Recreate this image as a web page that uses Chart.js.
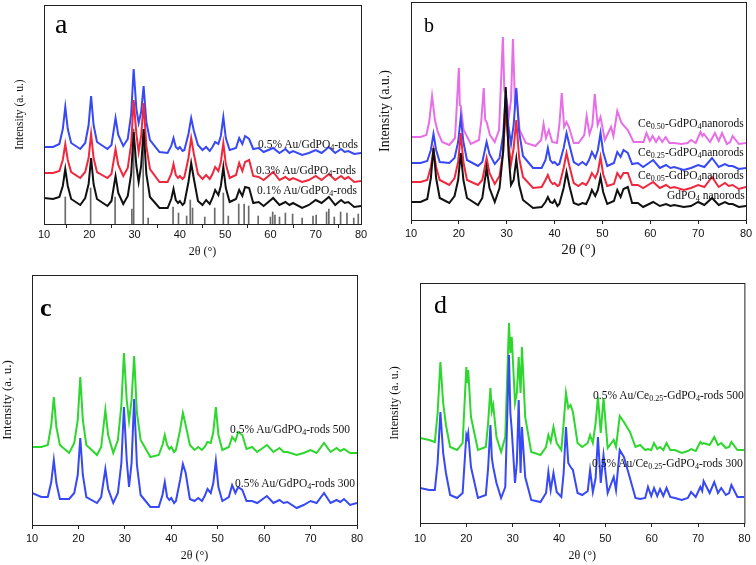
<!DOCTYPE html>
<html>
<head>
<meta charset="utf-8">
<script src="https://cdn.jsdelivr.net/npm/chart.js@4.4.1/dist/chart.umd.min.js"></script>
<style>
  body { margin: 0; background: #fff; }
  #wrap { position: relative; width: 756px; height: 565px; overflow: hidden; background: #fff; }
  canvas { position: absolute; }
  .lbl { position: absolute; font-family: "Liberation Serif", "Times New Roman", serif; font-size: 11.5px; line-height: 1; color: #111; white-space: nowrap; }
  .lbl sub { font-size: 70%; line-height: 0; vertical-align: -0.3em; }
  .panel { position: absolute; font-family: "Liberation Serif", "Times New Roman", serif; line-height: 1; color: #000; }
</style>
</head>
<body>
<div id="wrap">
  <canvas id="pa" width="378" height="272" style="left:0;top:0"></canvas>
  <canvas id="pb" width="384" height="268" style="left:372px;top:0"></canvas>
  <canvas id="pc" width="378" height="293" style="left:0;top:272px"></canvas>
  <canvas id="pd" width="376" height="293" style="left:380px;top:272px"></canvas>

  <div class="panel" style="left:55px;top:10px;font-size:28px">a</div>
  <div class="panel" style="left:424px;top:15px;font-size:20px">b</div>
  <div class="panel" style="left:40px;top:295px;font-size:26px;font-weight:bold">c</div>
  <div class="panel" style="left:434px;top:292px;font-size:26px">d</div>

  <div class="lbl" style="left:258px;top:139px">0.5% Au/GdPO<sub>4</sub>-rods</div>
  <div class="lbl" style="left:256px;top:165px">0.3% Au/GdPO<sub>4</sub>-rods</div>
  <div class="lbl" style="left:257px;top:185px">0.1% Au/GdPO<sub>4</sub>-rods</div>

  <div class="lbl" style="left:638px;top:118px">Ce<sub>0.50</sub>-GdPO<sub>4</sub>nanorods</div>
  <div class="lbl" style="left:638px;top:147px">Ce<sub>0.25</sub>-GdPO<sub>4</sub>nanorods</div>
  <div class="lbl" style="left:638px;top:170px">Ce<sub>0.05</sub>-GdPO<sub>4</sub>nanorods</div>
  <div class="lbl" style="left:667px;top:190px">GdPO<sub>4</sub> nanorods</div>

  <div class="lbl" style="left:230px;top:424px">0.5% Au/GdPO<sub>4</sub>-rods 500</div>
  <div class="lbl" style="left:235px;top:478px">0.5% Au/GdPO<sub>4</sub>-rods 300</div>

  <div class="lbl" style="left:593px;top:390px">0.5% Au/Ce<sub>0.25</sub>-GdPO<sub>4</sub>-rods 500</div>
  <div class="lbl" style="left:592px;top:458px">0.5% Au/Ce<sub>0.25</sub>-GdPO<sub>4</sub>-rods 300</div>
</div>
<script>
// 2θ grid for the monoclinic GdPO4 patterns (a, b lower three, c)
const gdpoAngles = [
  10, 12, 13.4, 14.15, 14.7, 15.25, 16.0, 18, 19.1, 19.85,
  20.4, 20.95, 21.7, 24.0, 24.9, 25.8, 26.4, 27.5, 28.5, 29.25,
  29.8, 30.4, 30.9, 31.45, 32.0, 32.6, 33.4, 35.5, 37.3, 38.1,
  38.6, 39.1, 39.6, 40.0, 40.6, 41.0, 41.9, 42.5, 43.1, 44.0,
  45.0, 45.8, 46.6, 47.2, 47.8, 48.5, 49.05, 49.6, 50.15, 51.0,
  52.4, 53.1, 53.8, 54.4, 55.3, 56.2, 57.4, 58.5, 60.6, 62.0,
  63.3, 64.2, 65.0, 67.0, 68.5, 70.0, 71.3, 72.9, 74.3, 75.6,
  76.4, 77.2, 78.5, 80
];
// 2θ grid for the mixed-phase patterns (Ce0.50 in b, both in d)
const mixAngles = [
  10, 12, 13.2, 13.8, 14.4, 15.0, 15.6, 16.5, 18, 19.2,
  20.0, 20.2, 20.4, 21.0, 22.5, 24.2, 24.7, 25.2, 25.5, 25.8,
  26.5, 27.5, 28.4, 29.2, 29.5, 29.8, 30.5, 30.9, 31.3, 31.7,
  32.0, 32.7, 34, 36, 37.2, 37.7, 38.2, 38.8, 39.5, 40.5,
  41.0, 41.5, 42.0, 42.5, 43.0, 44, 45, 46.2, 46.7, 47.3,
  47.9, 48.4, 49.0, 49.6, 50.5, 51.8, 52.3, 53.1, 54.0, 55.3,
  56.5, 57.5, 58.6, 59.2, 59.9, 60.5, 61.2, 61.8, 62.5, 63.2,
  64.0, 65, 66.5, 67.8, 68.5, 69.5, 70.5, 70.9, 71.2, 72.5,
  73.5, 74.3, 75, 76, 76.7, 77.2, 78.5, 80
];

// panel a
const au05 = [
  77, 77, 80, 95, 117, 95, 81, 75, 81, 99,
  128, 99, 82, 75, 79, 106, 89, 78, 85, 110,
  155, 115, 101, 112, 138, 102, 84, 72, 71, 78,
  86, 77, 75, 77, 73, 74, 90, 106, 93, 79,
  74, 77, 73, 77, 82, 80, 88, 107, 86, 74,
  76, 86, 80, 88, 85, 75, 76, 72, 76, 71,
  75, 71, 73, 69, 71, 74, 71, 77, 71, 75,
  72, 73, 70, 71
];
const au03 = [
  51, 51, 53, 64, 80, 64, 52, 46, 52, 66,
  90, 66, 52, 46, 50, 75, 59, 48, 56, 80,
  124, 90, 72, 88, 121, 78, 55, 42, 42, 50,
  60, 49, 46, 48, 45, 47, 66, 86, 70, 50,
  45, 49, 45, 50, 57, 53, 62, 81, 60, 46,
  49, 61, 53, 62, 64, 48, 47, 44, 52, 44,
  47, 44, 46, 42, 44, 48, 44, 50, 44, 48,
  45, 47, 42, 43
];
const au01 = [
  26, 25, 27, 38, 55, 38, 25, 19, 26, 40,
  66, 40, 25, 18, 23, 48, 31, 20, 28, 50,
  92, 58, 42, 58, 95, 50, 27, 16, 16, 25,
  35, 24, 21, 23, 19, 21, 42, 61, 45, 23,
  19, 24, 20, 26, 34, 29, 38, 57, 36, 22,
  25, 34, 28, 37, 36, 21, 22, 18, 26, 19,
  22, 19, 21, 16, 19, 24, 21, 27, 19, 24,
  21, 22, 17, 18
];
// reference card lines under panel a
const refAngles = [14.7, 20.3, 25.7, 29.4, 29.8, 31.9, 33.0, 38.5, 39.7, 41.5, 42.3, 42.8, 45.5, 47.7, 49.6, 50.7, 53.0, 54.2, 55.2, 57.3, 60.0, 60.5, 61.0, 62.0, 63.3, 64.9, 67.0, 69.4, 70.1, 72.4, 72.9, 74.1, 75.5, 76.9, 78.4, 79.4];
const refHeights = [27, 36, 27, 15, 95, 85, 6, 17, 11, 8, 24, 16, 7, 16, 31, 8, 20, 20, 18, 8, 7, 12, 9, 7, 11, 10, 6, 8, 9, 12, 15, 7, 12, 11, 6, 10];

// panel b
const ce050 = [
  83, 83, 85, 98, 124, 100, 88, 78, 75, 82,
  152, 115, 114, 90, 76, 80, 100, 132, 100, 98,
  85, 78, 90, 183, 130, 125, 105, 120, 181, 120,
  127, 90, 77, 74, 80, 96, 82, 90, 78, 77,
  95, 127, 93, 98, 93, 77, 77, 85, 104, 86,
  95, 126, 95, 103, 80, 93, 84, 109, 97, 90,
  78, 78, 78, 87, 79, 84, 78, 83, 78, 83,
  77, 77, 76, 77, 80, 77, 88, 84, 86, 78,
  87, 79, 87, 76, 78, 84, 76, 77
];
const ce025 = [
  57, 57, 59, 70, 86, 70, 58, 57, 62, 78,
  103, 78, 60, 54, 58, 78, 66, 56, 62, 85,
  125, 92, 76, 95, 132, 88, 64, 52, 52, 60,
  72, 60, 57, 58, 55, 56, 72, 87, 75, 58,
  55, 58, 55, 60, 68, 62, 70, 87, 68, 54,
  57, 68, 63, 70, 67, 56, 57, 53, 60, 52,
  55, 52, 53, 50, 52, 55, 53, 62, 53, 56,
  54, 54, 51, 52
];
const ce005 = [
  38, 38, 40, 53, 70, 53, 40, 35, 42, 58,
  87, 58, 40, 35, 40, 62, 47, 36, 44, 68,
  110, 75, 56, 72, 100, 62, 43, 32, 33, 40,
  45, 39, 36, 37, 34, 35, 52, 67, 54, 37,
  34, 37, 35, 40, 47, 42, 48, 63, 46, 34,
  36, 47, 42, 47, 47, 35, 35, 32, 38, 32,
  35, 32, 33, 30, 32, 35, 33, 43, 33, 37,
  34, 35, 31, 33
];
const gdpo = [
  18, 18, 21, 42, 72, 42, 22, 17, 24, 40,
  67, 40, 22, 15, 22, 52, 32, 18, 32, 68,
  133, 65, 35, 40, 61, 35, 20, 12, 13, 18,
  23, 18, 17, 20, 14, 16, 32, 48, 34, 17,
  15, 17, 16, 22, 30, 24, 30, 43, 28, 16,
  19, 30, 23, 31, 33, 17, 17, 13, 18, 14,
  16, 14, 15, 13, 14, 18, 15, 22, 15, 18,
  16, 16, 13, 14
];

// panel c
const rods500 = [
  78, 78, 80, 100, 128, 98, 80, 72, 82, 105,
  148, 105, 80, 70, 78, 115, 90, 72, 85, 120,
  172, 125, 104, 125, 169, 112, 85, 68, 70, 80,
  90, 80, 76, 78, 73, 75, 95, 112, 100, 80,
  75, 78, 75, 78, 83, 82, 93, 118, 90, 75,
  78, 88, 84, 93, 90, 76, 78, 73, 80, 73,
  77, 73, 73, 70, 72, 75, 72, 82, 73, 77,
  74, 76, 72, 72
];
const rods300 = [
  32, 28, 28, 43, 65, 42, 26, 26, 32, 50,
  87, 50, 28, 22, 28, 56, 36, 22, 32, 62,
  118, 65, 38, 62, 126, 60, 30, 18, 18, 30,
  43, 28, 25, 27, 22, 24, 45, 61, 52, 26,
  24, 27, 24, 29, 36, 32, 42, 64, 38, 24,
  28, 40, 32, 38, 35, 24, 24, 22, 29, 22,
  25, 22, 23, 17, 20, 24, 22, 32, 22, 25,
  23, 26, 20, 22
];

// panel d
const ceRods500 = [
  85, 83, 81, 110, 161, 120, 98, 76, 73, 80,
  156, 140, 153, 106, 73, 76, 100, 135, 112, 118,
  86, 71, 86, 200, 170, 186, 120, 130, 166, 130,
  176, 106, 71, 68, 76, 88, 81, 96, 80, 73,
  100, 130, 115, 118, 111, 80, 76, 80, 88, 80,
  100, 126, 90, 125, 75, 83, 76, 107, 101, 91,
  76, 78, 73, 74, 73, 80, 74, 76, 73, 80,
  73, 73, 70, 72, 74, 72, 81, 79, 80, 78,
  86, 78, 80, 75, 76, 81, 73, 73
];
const ceRods300 = [
  35, 33, 33, 60, 111, 70, 50, 28, 25, 30,
  88, 85, 90, 56, 25, 28, 55, 98, 65, 56,
  40, 25, 36, 168, 110, 93, 40, 60, 123, 50,
  96, 46, 23, 21, 30, 51, 33, 50, 31, 26,
  50, 96, 60, 56, 53, 30, 28, 32, 53, 31,
  45, 86, 40, 68, 30, 46, 33, 73, 66, 45,
  25, 24, 25, 36, 27, 35, 27, 34, 27, 35,
  26, 25, 23, 25, 31, 26, 36, 32, 42, 30,
  41, 30, 35, 28, 30, 38, 26, 26
];

const BLUE = 'rgb(55, 72, 245)';
const RED = 'rgb(240, 40, 62)';
const BLACK = '#111';
const PINK = 'rgb(232, 110, 232)';
const GREEN = 'rgb(45, 215, 45)';

function trace(angles, values, color) {
  return {
    data: angles.map((a, i) => ({ x: a, y: values[i] })),
    borderColor: color,
    borderWidth: 2,
    pointRadius: 0,
    tension: 0,
    fill: false
  };
}

const framePlugin = {
  id: 'frame',
  afterDraw(chart) {
    const { ctx, chartArea } = chart;
    ctx.save();
    ctx.strokeStyle = '#222';
    ctx.lineWidth = 1;
    ctx.strokeRect(chartArea.left + 0.5, chartArea.top + 0.5,
      chartArea.right - chartArea.left, chartArea.bottom - chartArea.top);
    ctx.restore();
  }
};

function makePanel(id, o) {
  return new Chart(document.getElementById(id), {
    type: 'line',
    data: { datasets: o.datasets },
    options: {
      animation: false,
      responsive: false,
      devicePixelRatio: 1,
      layout: { padding: { top: o.padTop, right: o.padRight, left: 0, bottom: 0 } },
      plugins: { legend: { display: false }, tooltip: { enabled: false } },
      scales: {
        x: {
          type: 'linear', min: 10, max: 80, offset: false,
          ticks: { stepSize: 10, padding: o.tickPad, color: '#111', font: { family: 'Liberation Sans', size: 11 } },
          grid: { display: true, drawOnChartArea: false, tickLength: 4, color: '#222' },
          border: { display: false },
          title: { display: true, text: '2θ (°)', color: '#111',
            font: { family: 'Liberation Serif', size: o.xTitleSize },
            padding: { top: 0, bottom: o.xTitlePad } },
          afterFit: s => { s.height = o.xHeight; }
        },
        y: {
          min: 0, max: o.yMax,
          ticks: { display: false },
          grid: { display: false },
          border: { display: false },
          title: { display: true, text: o.yTitle, color: '#111',
            font: { family: 'Liberation Serif', size: o.yTitleSize },
            padding: { top: o.yTitlePad, bottom: 0 } },
          afterFit: s => { s.width = o.yWidth; }
        }
      }
    },
    plugins: [framePlugin]
  });
}

makePanel('pa', {
  padTop: 5, padRight: 17, yWidth: 44, xHeight: 48, yMax: 219, tickPad: 0,
  xTitleSize: 12, xTitlePad: 12.8, yTitle: 'Intensity (a. u.)', yTitleSize: 11.5, yTitlePad: 13,
  datasets: [
    trace(gdpoAngles, au01, BLACK),
    trace(gdpoAngles, au03, RED),
    trace(gdpoAngles, au05, BLUE),
    {
      type: 'bar',
      data: refAngles.map((a, i) => ({ x: a, y: refHeights[i] })),
      backgroundColor: '#6a6a6a',
      barThickness: 1
    }
  ]
});

makePanel('pb', {
  padTop: 2, padRight: 10, yWidth: 39, xHeight: 48, yMax: 218, tickPad: 3,
  xTitleSize: 15, xTitlePad: 9, yTitle: 'Intensity (a.u.)', yTitleSize: 14, yTitlePad: 4.6,
  datasets: [
    trace(gdpoAngles, gdpo, BLACK),
    trace(gdpoAngles, ce005, RED),
    trace(gdpoAngles, ce025, BLUE),
    trace(mixAngles, ce050, PINK)
  ]
});

makePanel('pc', {
  padTop: 3, padRight: 21, yWidth: 32, xHeight: 40, yMax: 250, tickPad: 3.5,
  xTitleSize: 12, xTitlePad: 1.8, yTitle: 'Intensity (a. u.)', yTitleSize: 13, yTitlePad: 0,
  datasets: [
    trace(gdpoAngles, rods300, BLUE),
    trace(gdpoAngles, rods500, GREEN)
  ]
});

makePanel('pd', {
  padTop: 11, padRight: 7, yWidth: 40, xHeight: 42, yMax: 240, tickPad: 5.5,
  xTitleSize: 12, xTitlePad: 1.8, yTitle: 'Intensity (a. u.)', yTitleSize: 12, yTitlePad: 7.8,
  datasets: [
    trace(mixAngles, ceRods300, BLUE),
    trace(mixAngles, ceRods500, GREEN)
  ]
});
</script>
</body>
</html>
